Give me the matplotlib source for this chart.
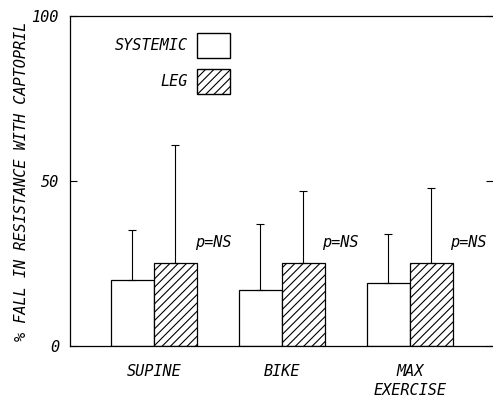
import numpy as np
import matplotlib
matplotlib.use("Agg")
from matplotlib import pyplot as plt
from matplotlib.patches import Patch

# values
categories = ["SUPINE", "BIKE", "MAX\nEXERCISE"]
systemic = [20, 17, 19]
systemic_err = [15, 20, 15]
leg = [25, 25, 25]
leg_err = [36, 22, 23]
p_labels = ["p=NS", "p=NS", "p=NS"]

plt.rcParams['font.family'] = 'DejaVu Sans Mono'
plt.rcParams['font.style'] = 'italic'
plt.rcParams['hatch.linewidth'] = 0.8

fig = plt.figure(figsize=(4.93, 3.97), dpi=100)
ax = fig.add_axes([0.142, 0.1285, 0.858, 0.8315])

x = np.arange(len(categories))
w = 0.336
ax.bar(x - w / 2, systemic, w, color='white', edgecolor='black', linewidth=0.9,
       label='SYSTEMIC')
ax.bar(x + w / 2, leg, w, color='white', edgecolor='black', linewidth=0.9,
       hatch='////', label='LEG')
ax.errorbar(x - w / 2, systemic, yerr=[np.zeros(3), systemic_err], fmt='none',
            ecolor='black', elinewidth=0.8, capsize=3, capthick=0.8)
ax.errorbar(x + w / 2, leg, yerr=[np.zeros(3), leg_err], fmt='none',
            ecolor='black', elinewidth=0.8, capsize=3, capthick=0.8)

for i, t in enumerate(p_labels):
    ax.text(x[i] + 0.46, 31.5, t, ha='center', va='center', fontsize=11)

ax.set_xlim(-0.656, 2.65)
ax.set_ylim(0, 100)
ax.set_yticks([0, 50, 100])
ax.set_xticks(x)
ax.set_xticklabels(categories, fontsize=11, linespacing=1.3)
ax.tick_params(axis='x', length=0, pad=13)
ax.tick_params(axis='y', direction='in', length=5, labelsize=11, pad=8,
               right=True)
ax.set_ylabel("% FALL IN RESISTANCE WITH CAPTOPRIL", fontsize=11)
ax.yaxis.set_label_coords(-0.097, 0.5)
ax.spines['right'].set_visible(False)
for s in ax.spines.values():
    s.set_linewidth(0.9)

handles = [Patch(facecolor='white', edgecolor='black', label='SYSTEMIC'),
           Patch(facecolor='white', edgecolor='black', hatch='////', label='LEG')]
ax.legend(handles=handles, loc='upper right', bbox_to_anchor=(0.378, 0.948),
          markerfirst=False, frameon=False, fontsize=11, handlelength=2.15,
          handleheight=2.1, labelspacing=0.75, handletextpad=0.6,
          borderpad=0, borderaxespad=0)

fig.savefig("out.png", dpi=100)
